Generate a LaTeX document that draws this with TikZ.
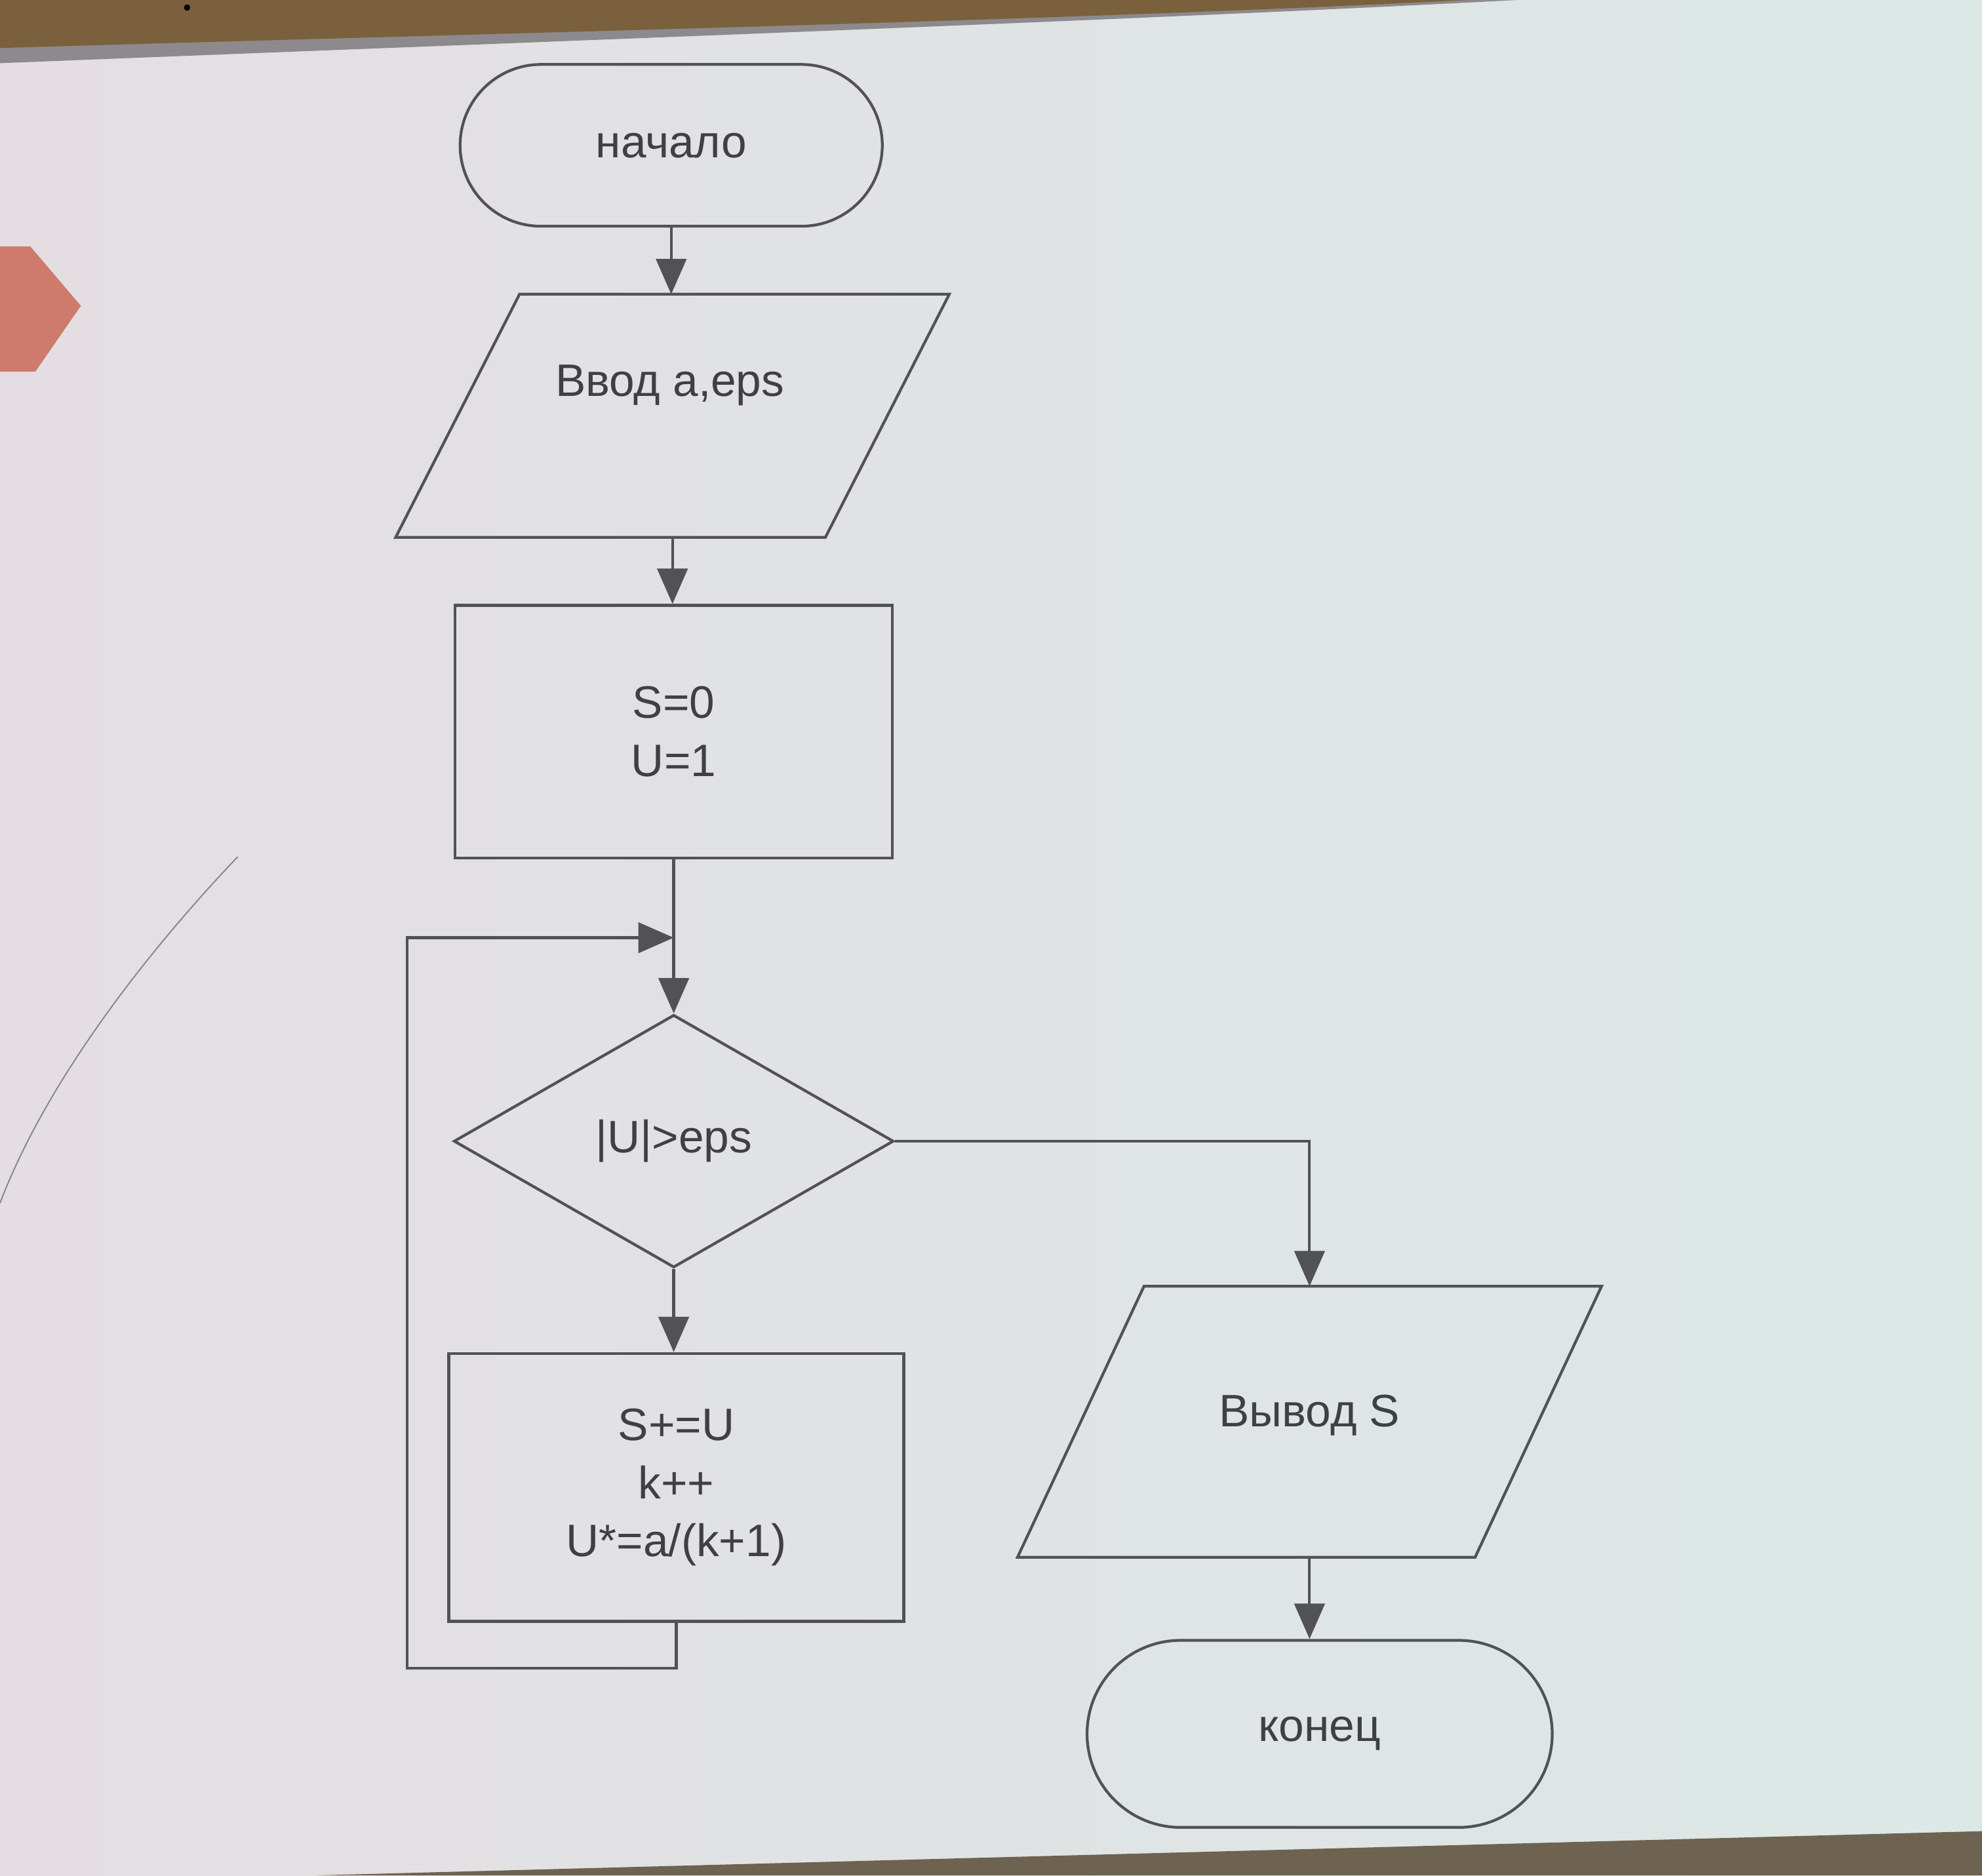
\documentclass[tikz,border=0pt]{standalone}
\usepackage{fontspec}
\setmainfont{Liberation Sans}
\usetikzlibrary{shapes.geometric,shapes.misc,arrows.meta}
\definecolor{linec}{RGB}{82,82,84}
\definecolor{txtc}{RGB}{64,64,66}
\definecolor{bgl}{RGB}{228,222,226}
\definecolor{bgm}{RGB}{236,237,240}
\definecolor{bgr}{RGB}{220,232,230}
\definecolor{bandc}{RGB}{122,96,60}
\definecolor{stripc}{RGB}{140,138,140}
\definecolor{botc}{RGB}{110,98,80}
\definecolor{pinkc}{RGB}{206,122,108}
\begin{document}
\begin{tikzpicture}[x=1pt,y=-1pt,
  ln/.style={draw=linec,line width=2.2pt,line join=miter},
  conn/.style={draw=linec,line width=2.2pt,-{Triangle[length=28pt,width=24pt]}},
  lbl/.style={text=txtc,font=\fontsize{36}{46}\selectfont,align=center},
  term/.style={rounded rectangle,draw=linec,line width=2.2pt,inner sep=0pt,lbl},
  proc/.style={rectangle,draw=linec,line width=2.2pt,inner sep=0pt,lbl},
  dec/.style={diamond,draw=linec,line width=2.2pt,inner sep=0pt,lbl},
  iobox/.style={rectangle,draw=none,inner sep=0pt},
]
\useasboundingbox (0,0) rectangle (1568,1484);
% background (projected slide)
\shade[left color=bgl,middle color=bgm,right color=bgr] (0,0) rectangle (1568,1484);
\fill[stripc] (0,0) -- (1200,0) .. controls (900,16) and (400,34) .. (0,50) -- cycle;
\fill[bandc] (0,0) -- (1160,0) .. controls (850,16) and (400,26) .. (0,38) -- cycle;
\fill[black] (148,6) circle (2.5);
\fill[botc] (250,1484) -- (1568,1449) -- (1568,1484) -- cycle;
\fill[pinkc] (0,195) -- (24,195) -- (64,242) -- (28,294) -- (0,294) -- cycle;
\draw[draw=linec!70,line width=1pt] (188,678) .. controls (110,760) and (35,860) .. (0,952);

% nodes
\node[term,minimum width=334pt,minimum height=128pt] (start) at (531,115) {начало};

\node[iobox,minimum width=340pt,minimum height=192pt] (in) at (532,329) {};
\draw[ln] ([xshift=-121pt]in.north) -- ([xshift=219pt]in.north)
  -- ([xshift=121pt]in.south) -- ([xshift=-219pt]in.south) -- cycle;
\node[lbl] (inlbl) at (530,305) {Ввод a,eps};

\node[proc,minimum width=346pt,minimum height=200pt] (init) at (533,579) {S=0\\U=1};

\coordinate (loopin) at (533,742);
\node[dec,minimum width=348pt,minimum height=200pt] (cond) at (533,903) {|U|>eps};

\node[proc,minimum width=360pt,minimum height=212pt] (body) at (535,1177) {S+=U\\k++\\U*=a/(k+1)};
\coordinate (lb) at (322,1320);

\node[iobox,minimum width=362pt,minimum height=214pt] (out) at (1036,1125) {};
\draw[ln] ([xshift=-131pt]out.north) -- ([xshift=231pt]out.north)
  -- ([xshift=131pt]out.south) -- ([xshift=-231pt]out.south) -- cycle;
\node[lbl] (outlbl) at (1036,1120) {Вывод S};

\node[term,minimum width=368pt,minimum height=148pt] (end) at (1044,1372) {конец};

% connectors
\draw[conn] (start.south) -- (start.south |- in.north);
\draw[conn] (in.south) -- (in.south |- init.north);
\draw[conn] (init.south) -- (cond.north);
\draw[conn] (cond.south) -- (cond.south |- body.north);
\draw[conn] (body.south) |- (lb) |- (loopin);
\draw[conn] (cond.east) -| (out.north);
\draw[conn] (out.south) -- (out.south |- end.north);
\end{tikzpicture}
\end{document}
